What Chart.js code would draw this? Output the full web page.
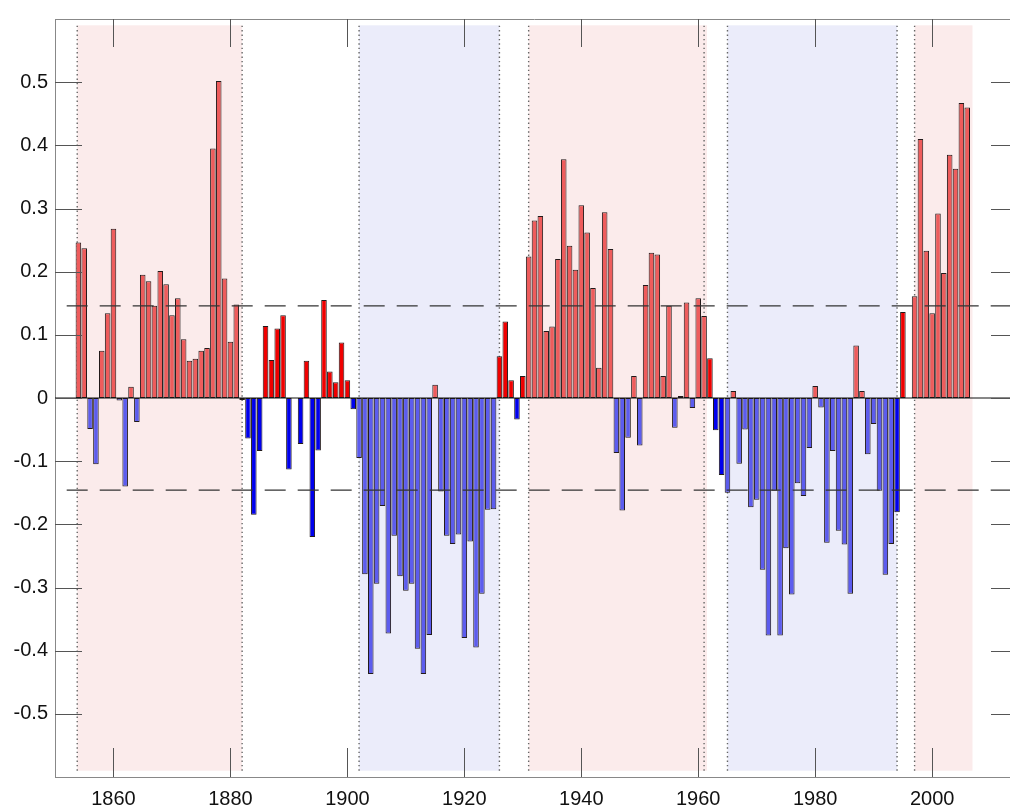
<!DOCTYPE html>
<html>
<head>
<meta charset="utf-8">
<script src="https://cdn.jsdelivr.net/npm/chart.js@4.4.1/dist/chart.umd.min.js"></script>
<style>
html, body { margin: 0; padding: 0; background: #fff; overflow: hidden; }
</style>
</head>
<body>
<canvas id="chart" width="1016" height="809"></canvas>
<script>
// yearly index, 1854 .. 2006
const firstYear = 1854
const amo = [
    0.246, 0.237, -0.049, -0.105, 0.075, 0.134, 0.268, -0.004, -0.140, 0.018,
    -0.038, 0.195, 0.185, 0.146, 0.201, 0.180, 0.131, 0.158, 0.093, 0.059,
    0.062, 0.075, 0.079, 0.395, 0.502, 0.189, 0.089, 0.148, -0.003, -0.064,
    -0.185, -0.084, 0.114, 0.060, 0.110, 0.131, -0.113, 0.000, -0.073, 0.059,
    -0.220, -0.083, 0.155, 0.042, 0.025, 0.088, 0.028, -0.018, -0.095, -0.279,
    -0.437, -0.294, -0.171, -0.373, -0.218, -0.282, -0.305, -0.294, -0.397, -0.437,
    -0.375, 0.021, -0.148, -0.218, -0.231, -0.216, -0.380, -0.227, -0.395, -0.310,
    -0.177, -0.176, 0.066, 0.121, 0.028, -0.034, 0.035, 0.224, 0.281, 0.288,
    0.106, 0.113, 0.220, 0.378, 0.241, 0.203, 0.305, 0.262, 0.174, 0.048,
    0.294, 0.236, -0.087, -0.178, -0.063, 0.035, -0.075, 0.179, 0.230, 0.227,
    0.035, 0.146, -0.047, 0.003, 0.151, -0.016, 0.158, 0.130, 0.063, -0.051,
    -0.122, -0.150, 0.011, -0.104, -0.050, -0.173, -0.161, -0.272, -0.376, -0.147,
    -0.376, -0.238, -0.311, -0.135, -0.155, -0.079, 0.019, -0.015, -0.229, -0.084,
    -0.210, -0.232, -0.310, 0.083, 0.011, -0.089, -0.041, -0.147, -0.280, -0.231,
    -0.181, 0.136, 0.000, 0.161, 0.410, 0.233, 0.134, 0.292, 0.198, 0.385,
    0.363, 0.467, 0.460
]
const years = amo.map((v, i) => firstYear + i)

const xTicks = [1860, 1880, 1900, 1920, 1940, 1960, 1980, 2000]
const yTicks = [-0.5, -0.4, -0.3, -0.2, -0.1, 0, 0.1, 0.2, 0.3, 0.4, 0.5]
const threshold = 0.146

// warm / cold phases (shaded) and their dotted edges
const warmPeriods = [[1853.8, 1882], [1931, 1961.5], [1997, 2006.9]]
const coldPeriods = [[1902, 1926], [1965, 1994]]
const phaseEdges = [1853.8, 1882, 1902, 1926, 1931, 1961, 1965, 1994, 1997]

Chart.defaults.font.family = "'Liberation Sans', Arial, sans-serif"

const inPeriod = function(year, list){
    for(const p of list){
        if(year >= p[0] && year < p[1]) return true
    }
    return false
}

const barColors = years.map((yr, i) => {
    const shaded = inPeriod(yr, warmPeriods) || inPeriod(yr, coldPeriods)
    if(amo[i] >= 0) return shaded ? '#ee5c5c' : '#f00000'
    return shaded ? '#5c5cee' : '#0000ee'
})

const datasets = [{
    type: 'bar',
    data: years.map((yr, i) => ({x: yr, y: amo[i]})),
    backgroundColor: barColors,
    borderColor: '#221a1a',
    borderWidth: 1,
    borderSkipped: false,
    barPercentage: 0.95,
    categoryPercentage: 1.0,
    order: 3
}, {
    type: 'line',
    data: [{x: 1850, y: 0}, {x: 2014, y: 0}],
    borderColor: '#111',
    borderWidth: 1,
    pointRadius: 0,
    order: 1
}, {
    type: 'line',
    data: [{x: 1852, y: threshold}, {x: 2014, y: threshold}],
    borderColor: '#333',
    borderWidth: 1.2,
    borderDash: [21, 12],
    pointRadius: 0,
    order: 1
}, {
    type: 'line',
    data: [{x: 1852, y: -threshold}, {x: 2014, y: -threshold}],
    borderColor: '#333',
    borderWidth: 1.2,
    borderDash: [21, 12],
    pointRadius: 0,
    order: 1
}]

for(const e of phaseEdges){
    datasets.push({
        type: 'line',
        data: [{x: e, y: -0.59}, {x: e, y: 0.59}],
        borderColor: '#666',
        borderWidth: 1.4,
        borderDash: [1.4, 3],
        pointRadius: 0,
        order: 5
    })
}

const framePlugin = {
    id: 'frame',
    beforeDatasetsDraw(chart){
        const ctx = chart.ctx
        const x = chart.scales.x, y = chart.scales.y
        const top = y.getPixelForValue(0.59), bottom = y.getPixelForValue(-0.59)
        ctx.save()
        ctx.fillStyle = '#fbebeb'
        for(const p of warmPeriods){
            const a = x.getPixelForValue(p[0]), b = x.getPixelForValue(p[1])
            ctx.fillRect(a, top, b - a, bottom - top)
        }
        ctx.fillStyle = '#ebecfa'
        for(const p of coldPeriods){
            const a = x.getPixelForValue(p[0]), b = x.getPixelForValue(p[1])
            ctx.fillRect(a, top, b - a, bottom - top)
        }
        ctx.restore()
    },
    afterDraw(chart){
        const ctx = chart.ctx
        const area = chart.chartArea
        const x = chart.scales.x, y = chart.scales.y
        ctx.save()
        ctx.strokeStyle = '#888'
        ctx.lineWidth = 1
        ctx.beginPath()
        ctx.moveTo(area.left, area.top + 0.5)
        ctx.lineTo(area.right, area.top + 0.5)
        ctx.moveTo(area.right - 0.5, area.top)
        ctx.lineTo(area.right - 0.5, area.bottom)
        ctx.stroke()

        // inward tick marks on all four sides
        ctx.strokeStyle = '#555'
        ctx.beginPath()
        for(const v of xTicks){
            const px = Math.round(x.getPixelForValue(v)) + 0.5
            ctx.moveTo(px, area.top)
            ctx.lineTo(px, area.top + 28)
            ctx.moveTo(px, area.bottom)
            ctx.lineTo(px, area.bottom - 29)
        }
        for(const v of yTicks){
            const py = Math.round(y.getPixelForValue(v)) + 0.5
            ctx.moveTo(area.left, py)
            ctx.lineTo(area.left + 27, py)
            ctx.moveTo(area.right, py)
            ctx.lineTo(area.right - 23, py)
        }
        ctx.stroke()
        ctx.restore()
    }
}

const config = {
    type: 'bar',
    data: {datasets: datasets},
    options: {
        responsive: false,
        animation: false,
        layout: {padding: {top: 15, right: 2, left: 0, bottom: 0}},
        plugins: {
            legend: {display: false},
            tooltip: {enabled: false}
        },
        scales: {
            x: {
                type: 'linear',
                min: 1850,
                max: 2014,
                offset: false,
                grid: {display: false, drawTicks: false},
                border: {display: true, color: '#888'},
                ticks: {
                    color: '#111',
                    font: {size: 20},
                    padding: 10,
                    maxRotation: 0,
                    callback: v => String(v)
                },
                afterBuildTicks: s => { s.ticks = xTicks.map(v => ({value: v})) },
                afterFit: s => { s.height = 32 }
            },
            y: {
                type: 'linear',
                min: -0.6,
                max: 0.6,
                grid: {display: false, drawTicks: false},
                border: {display: true, color: '#888'},
                ticks: {
                    color: '#111',
                    font: {size: 20},
                    padding: 7,
                    callback: v => String(Number(v.toFixed(1)))
                },
                afterBuildTicks: s => { s.ticks = yTicks.map(v => ({value: v})) },
                afterFit: s => { s.width = 55 }
            }
        }
    },
    plugins: [framePlugin]
}

const chart = new Chart(document.querySelector('#chart'), config)
</script>
</body>
</html>
